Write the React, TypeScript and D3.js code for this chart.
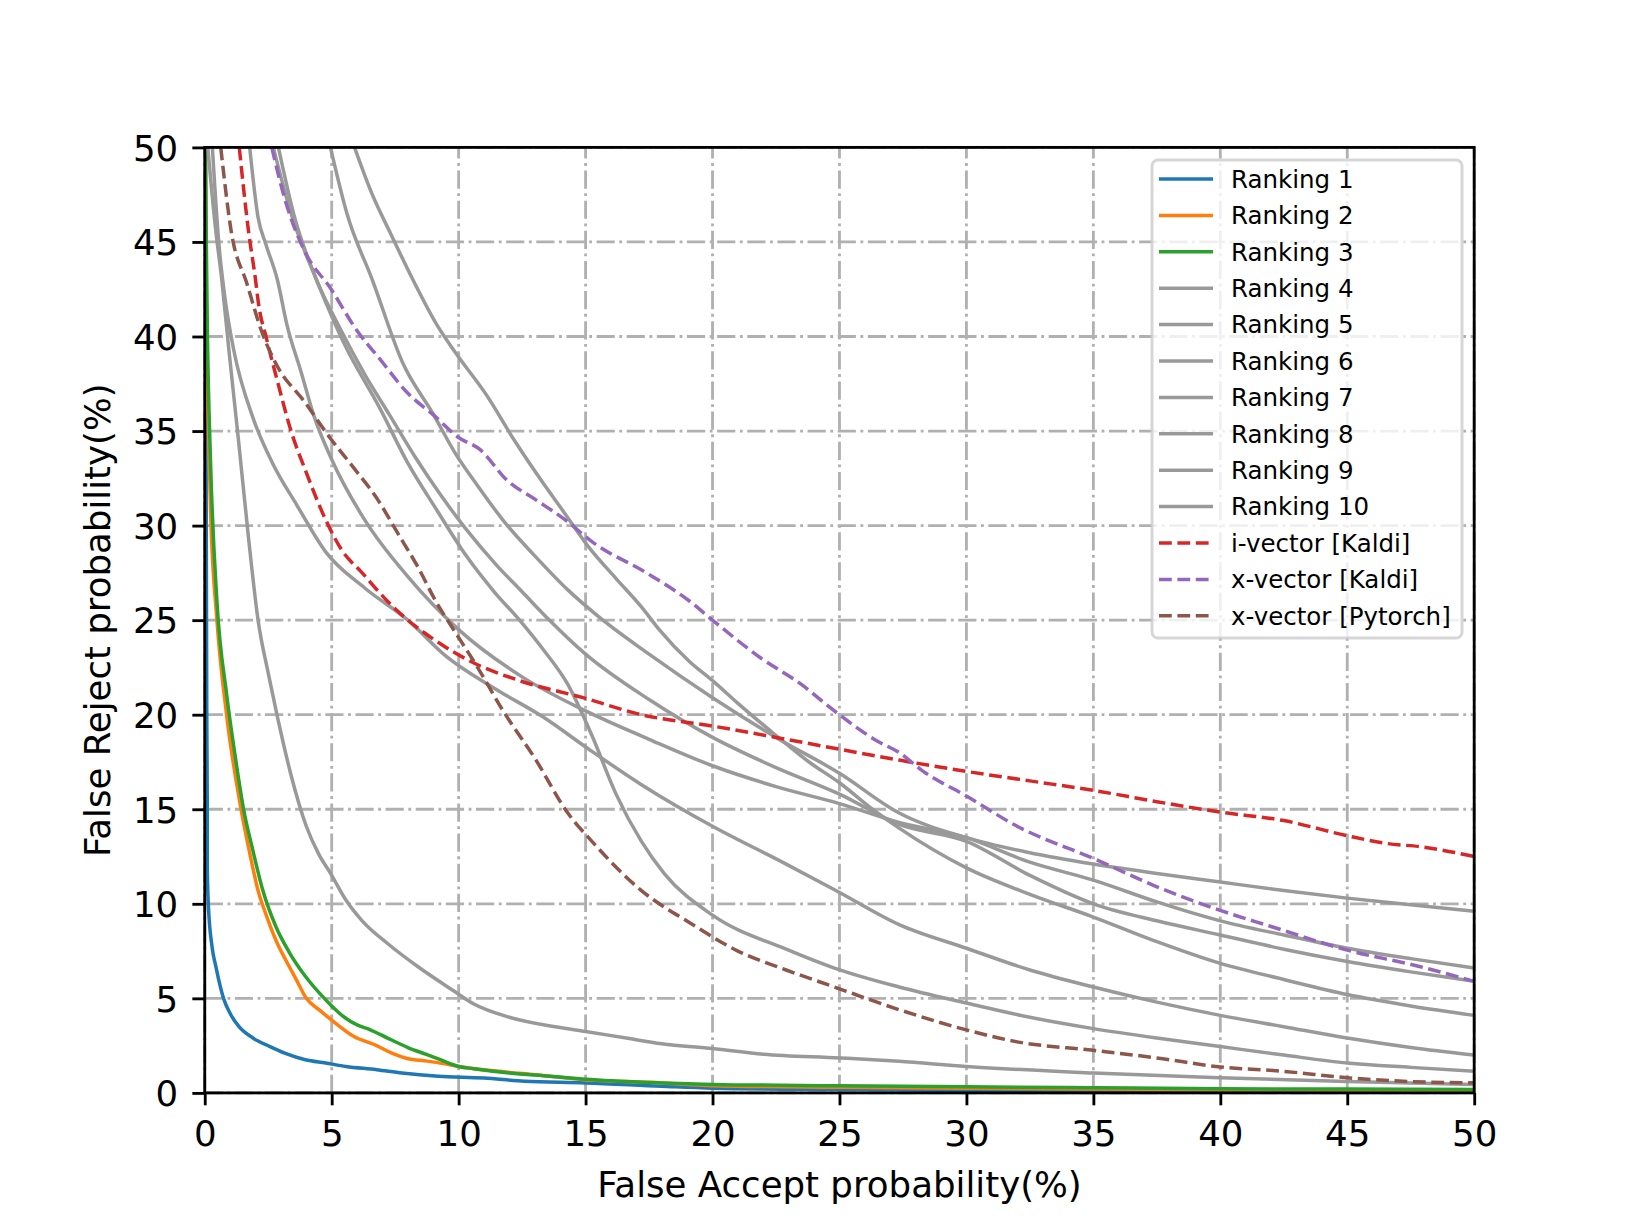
import { useEffect, useRef } from "react";
import * as d3 from "d3";

type Pt = [number, number];

// [false accept %, false reject %]
const ranking1: Pt[] = [[0.03,50],[0.04,40],[0.06,30],[0.08,20],[0.1,15],[0.1,12],[0.14,10],[0.29,7.7],[0.44,6.67],[0.74,5],[1.0,4.2],[1.35,3.5],[1.9,2.9],[2.55,2.46],[3.15,2.1],[3.96,1.75],[4.76,1.58],[5.56,1.4],[6.77,1.23],[7.77,1.05],[9.2,0.88],[11,0.79],[12.6,0.61],[15,0.53],[18,0.35],[20,0.25],[25,0.18],[30,0.13],[35,0.1],[40,0.08],[45,0.06],[50,0.05]];
const ranking2: Pt[] = [[0.02,50],[0.05,45],[0.08,38],[0.15,35],[0.23,30.8],[0.48,25],[0.86,20],[1.43,15],[1.8,12.5],[2.1,10.7],[2.45,9.3],[2.86,7.9],[3.2,7.0],[3.6,6.0],[4.0,5.0],[4.5,4.4],[5.0,3.85],[5.86,3.0],[6.77,2.5],[7.37,2.1],[7.97,1.82],[8.77,1.68],[9.4,1.55],[10,1.4],[11.6,1.14],[13,0.96],[15,0.7],[18,0.53],[20,0.38],[25,0.3],[30,0.25],[35,0.2],[40,0.17],[45,0.15],[50,0.13]];
const ranking3: Pt[] = [[0.02,50],[0.1,40.6],[0.23,33.3],[0.48,26],[0.86,21.1],[1.2,17.8],[1.53,15],[1.9,12.8],[2.29,10.7],[2.8,8.8],[3.3,7.5],[4.0,6.1],[4.5,5.3],[5.0,4.6],[5.5,4.0],[6.0,3.6],[6.5,3.35],[7.2,2.9],[8.0,2.4],[8.7,2.05],[9.2,1.8],[10,1.4],[10.6,1.28],[12,1.05],[13.6,0.88],[15,0.72],[17.5,0.55],[20,0.45],[25,0.38],[30,0.32],[35,0.27],[40,0.22],[45,0.2],[50,0.18]];
const ranking4: Pt[] = [[0.12,50],[0.4,46],[0.67,43],[0.95,39.3],[1.33,34.5],[1.72,29.4],[2.1,25],[2.5,22.2],[2.86,19.9],[3.4,16.8],[4.0,14.1],[4.5,12.6],[4.96,11.6],[5.56,10.2],[6.2,9.1],[7.2,7.9],[8.4,6.67],[9.8,5.4],[10.6,4.7],[12,4.0],[13.8,3.5],[15,3.25],[16.6,2.9],[18,2.6],[20,2.35],[22,2.05],[25,1.85],[27.35,1.67],[30,1.4],[35,1.05],[40,0.8],[45,0.6],[50,0.45]];
const ranking5: Pt[] = [[0.3,50],[0.55,45],[0.8,42],[1.14,39.3],[1.9,35.7],[2.67,33.3],[3.62,31.1],[4.77,28.6],[6.3,26.7],[8.0,25],[9.5,23.1],[11.4,21.4],[13.3,19.9],[15.1,18.2],[17.2,16.3],[20,14.1],[22.9,12.1],[25,10.6],[27.35,8.9],[30,7.65],[32.5,6.5],[35,5.6],[37.5,4.8],[40,4.1],[42.5,3.5],[45,2.9],[47.5,2.4],[50,2.0]];
const ranking6: Pt[] = [[2.7,50],[3.4,46.5],[4.4,43],[5.5,39.6],[6.9,36.2],[8.0,33.3],[9.15,30.8],[10.3,28.4],[11.4,26.5],[12.4,25.0],[13.3,23.5],[14.3,21.6],[15.25,18.9],[16.2,15.8],[17.2,13.3],[18.1,11.6],[20,9.4],[22.9,7.6],[24.8,6.6],[27.35,5.6],[30,4.75],[32.5,4.0],[35,3.4],[37.5,2.9],[40,2.45],[42.5,2.0],[45,1.58],[47.5,1.35],[50,1.15]];
const ranking7: Pt[] = [[1.77,50],[2.1,46.3],[2.4,44.9],[2.86,43],[3.24,40.6],[3.8,38.1],[4.3,35.8],[5.0,33.5],[6.3,30.3],[8.0,27.3],[10.0,24.5],[12.5,22.0],[15,20.2],[17.5,18.7],[20,17.3],[22.5,16.2],[25,15.3],[27.35,14.3],[30,13.5],[32.5,12.2],[35,11.25],[37.5,10.1],[40,9.1],[42.5,8.35],[45,7.65],[47.5,7.1],[50,6.6]];
const ranking8: Pt[] = [[2.9,50],[3.5,46.5],[4.4,43],[5.3,40.5],[6.3,38],[7.3,35.8],[8.3,33.6],[9.3,31.6],[10.3,29.8],[11.5,27.9],[12.5,26.5],[13.5,25.1],[15,23.2],[17.5,20.8],[20,18.8],[22.5,17.2],[25,15.8],[27.35,14.2],[30,13.3],[32.5,11.5],[35,10.0],[37.5,9.1],[40,8.35],[42.5,7.6],[45,6.95],[47.5,6.4],[50,5.9]];
const ranking9: Pt[] = [[4.95,50],[5.6,46.5],[6.6,43],[7.8,38.6],[9.0,35.9],[9.9,33.75],[10.7,32.2],[11.8,30.2],[13,28.4],[14.3,26.6],[15.5,25.2],[17.5,23.2],[20,20.9],[22.5,18.8],[25,16.9],[27.35,14.8],[30,13.5],[32.5,12.7],[35,12.1],[37.5,11.6],[40,11.15],[42.5,10.7],[45,10.3],[47.5,9.95],[50,9.6]];
const ranking10: Pt[] = [[5.9,50],[6.6,47.5],[7.3,45.5],[8.2,43],[9.15,40.6],[9.9,39.1],[11.1,36.9],[12.2,34.5],[13.3,32.3],[14.1,30.8],[15.1,28.9],[16.2,27.2],[17.2,25.7],[17.9,24.5],[19.1,22.8],[20,21.8],[21,20.6],[22.5,18.9],[23.8,17.5],[25,16.4],[26.3,15.0],[27.35,14.0],[30,11.9],[32.5,10.5],[35,9.3],[37.5,8.0],[40,6.85],[42.5,6.0],[45,5.2],[47.5,4.6],[50,4.1]];
const ivectorKaldi: Pt[] = [[1.36,50],[1.73,45.5],[2.0,43],[2.1,41.9],[2.45,39.8],[2.87,37.6],[3.4,35],[4.0,32.8],[4.8,30.2],[5.4,28.7],[6.2,27.5],[7.2,26.0],[8.0,25.0],[9.0,24.0],[10.5,22.8],[12.4,21.8],[14.9,20.9],[17.2,20.0],[20,19.4],[22.9,18.7],[25.7,18.0],[27.35,17.6],[30,17.0],[32.5,16.5],[35,16.0],[37.5,15.4],[40,14.85],[42.5,14.4],[45,13.6],[46.5,13.2],[48,13.0],[50,12.5]];
const xvectorKaldi: Pt[] = [[2.64,50],[3.17,47.2],[3.9,44.6],[4.98,42.5],[6.0,40.3],[6.9,38.8],[8.0,37.0],[9.05,35.8],[9.95,34.7],[10.86,34.0],[11.9,32.4],[13.0,31.4],[14.2,30.3],[15.3,29.1],[17.4,27.5],[19.1,26.0],[20,25.0],[21.9,23.0],[23.5,21.6],[24.8,20.2],[26.5,18.6],[27.35,18.0],[28.3,17.0],[30,15.7],[32,14.1],[35,12.4],[37.5,10.9],[40,9.65],[42,8.8],[45,7.55],[47.8,6.7],[50,5.9]];
const xvectorPytorch: Pt[] = [[0.63,50],[1.05,45.5],[1.66,42.8],[2.26,40.2],[2.87,38.4],[3.9,36.6],[4.9,34.7],[5.9,33.0],[6.8,31.4],[7.6,29.6],[8.4,27.8],[9.1,26.0],[9.8,24.5],[10.7,22.6],[11.8,20.1],[13,17.7],[14.3,14.8],[15.25,13.3],[17.2,10.7],[19.1,9.0],[21,7.5],[22.9,6.5],[24.8,5.6],[27.35,4.4],[30,3.33],[32,2.7],[35,2.25],[37.5,1.85],[40,1.37],[42.5,1.14],[45,0.8],[47.5,0.6],[50,0.53]];

const xTicks = [0, 5, 10, 15, 20, 25, 30, 35, 40, 45, 50];
const yTicks = [0, 5, 10, 15, 20, 25, 30, 35, 40, 45, 50];

const labels = [
  "Ranking 1", "Ranking 2", "Ranking 3", "Ranking 4", "Ranking 5", "Ranking 6", "Ranking 7",
  "Ranking 8", "Ranking 9", "Ranking 10", "i-vector [Kaldi]", "x-vector [Kaldi]", "x-vector [Pytorch]",
];
const curves = [
  ranking1, ranking2, ranking3, ranking4, ranking5, ranking6, ranking7,
  ranking8, ranking9, ranking10, ivectorKaldi, xvectorKaldi, xvectorPytorch,
];

const W = 1638;
const H = 1228;
const M = { left: 204.75, right: 1474.2, top: 147.4, bottom: 1092.9 };
const FONT = "'DejaVu Sans', sans-serif";
const LW = 3.5;
const DASH = "12.8,5.6";

const colorOf = (i: number) =>
  ["#1f77b4", "#ff7f0e", "#2ca02c"][i] ??
  (i < 10 ? "#999999" : ["#d62728", "#9467bd", "#8c564b"][i - 10]);

export default function App() {
  const ref = useRef<SVGSVGElement | null>(null);

  useEffect(() => {
    if (!ref.current) return;
    const svg = d3.select(ref.current);
    svg.selectAll("*").remove();

    const x = d3.scaleLinear().domain([0, 50]).range([M.left, M.right]);
    const y = d3.scaleLinear().domain([0, 50]).range([M.bottom, M.top]);

    svg.append("rect").attr("width", W).attr("height", H).attr("fill", "white");

    svg
      .append("clipPath")
      .attr("id", "plot-clip")
      .append("rect")
      .attr("x", M.left)
      .attr("y", M.top)
      .attr("width", M.right - M.left)
      .attr("height", M.bottom - M.top);

    // grid
    const grid = svg.append("g").attr("stroke", "#b0b0b0").attr("stroke-width", 2.84)
      .attr("stroke-dasharray", "18.2,4.55,2.84,4.55").attr("fill", "none");
    xTicks.forEach((t) => {
      grid.append("line").attr("x1", x(t)).attr("x2", x(t)).attr("y1", M.bottom).attr("y2", M.top);
    });
    yTicks.forEach((t) => {
      grid.append("line").attr("x1", M.left).attr("x2", M.right).attr("y1", y(t)).attr("y2", y(t));
    });

    // curves
    const line = d3
      .line<Pt>()
      .x((d) => x(d[0]))
      .y((d) => y(d[1]))
      .curve(d3.curveMonotoneX);

    const plot = svg.append("g").attr("clip-path", "url(#plot-clip)");
    curves.forEach((data, i) => {
      plot
        .append("path")
        .datum(data)
        .attr("d", line)
        .attr("fill", "none")
        .attr("stroke", colorOf(i))
        .attr("stroke-width", LW)
        .attr("stroke-dasharray", i < 10 ? null : DASH)
        .attr("stroke-linejoin", "round");
    });

    // spines
    svg
      .append("rect")
      .attr("x", M.left)
      .attr("y", M.top)
      .attr("width", M.right - M.left)
      .attr("height", M.bottom - M.top)
      .attr("fill", "none")
      .attr("stroke", "black")
      .attr("stroke-width", 2.84);

    // axes
    const xAxis = d3.axisBottom(x).tickValues(xTicks).tickSize(12.4).tickPadding(12);
    const yAxis = d3.axisLeft(y).tickValues(yTicks).tickSize(12.4).tickPadding(12);

    const gx = svg.append("g").attr("transform", `translate(0,${M.bottom})`).call(xAxis);
    const gy = svg.append("g").attr("transform", `translate(${M.left},0)`).call(yAxis);
    [gx, gy].forEach((g) => {
      g.select(".domain").remove();
      g.selectAll(".tick line").attr("stroke", "black").attr("stroke-width", 2.84);
      g.selectAll(".tick text")
        .attr("font-family", FONT)
        .attr("font-size", 35.6)
        .attr("fill", "black");
    });
    gx.selectAll(".tick text").attr("dy", null).attr("y", 53);
    gy.selectAll(".tick text").attr("dy", null).attr("y", 12.8).attr("x", -26.5);

    svg
      .append("text")
      .attr("x", (M.left + M.right) / 2)
      .attr("y", 1197)
      .attr("text-anchor", "middle")
      .attr("font-family", FONT)
      .attr("font-size", 35.6)
      .text("False Accept probability(%)");

    svg
      .append("text")
      .attr("transform", `translate(110,${(M.top + M.bottom) / 2}) rotate(-90)`)
      .attr("text-anchor", "middle")
      .attr("font-family", FONT)
      .attr("font-size", 35.6)
      .text("False Reject probability(%)");

    // legend
    const lg = svg.append("g");
    lg.append("rect")
      .attr("x", 1152)
      .attr("y", 160)
      .attr("width", 310)
      .attr("height", 478)
      .attr("rx", 6)
      .attr("fill", "white")
      .attr("fill-opacity", 0.8)
      .attr("stroke", "#cccccc")
      .attr("stroke-opacity", 0.8)
      .attr("stroke-width", 3);

    labels.forEach((lab, i) => {
      const cy = 179 + i * 36.4;
      lg.append("line")
        .attr("x1", 1159)
        .attr("x2", 1213)
        .attr("y1", cy)
        .attr("y2", cy)
        .attr("stroke", colorOf(i))
        .attr("stroke-width", LW)
        .attr("stroke-dasharray", i < 10 ? null : DASH);
      lg.append("text")
        .attr("x", 1231)
        .attr("y", cy + 8.8)
        .attr("font-family", FONT)
        .attr("font-size", 24.5)
        .attr("fill", "black")
        .text(lab);
    });
  }, []);

  return (
    <svg
      ref={ref}
      width={W}
      height={H}
      viewBox={`0 0 ${W} ${H}`}
      style={{ position: "absolute", left: 0, top: 0, display: "block" }}
    />
  );
}
